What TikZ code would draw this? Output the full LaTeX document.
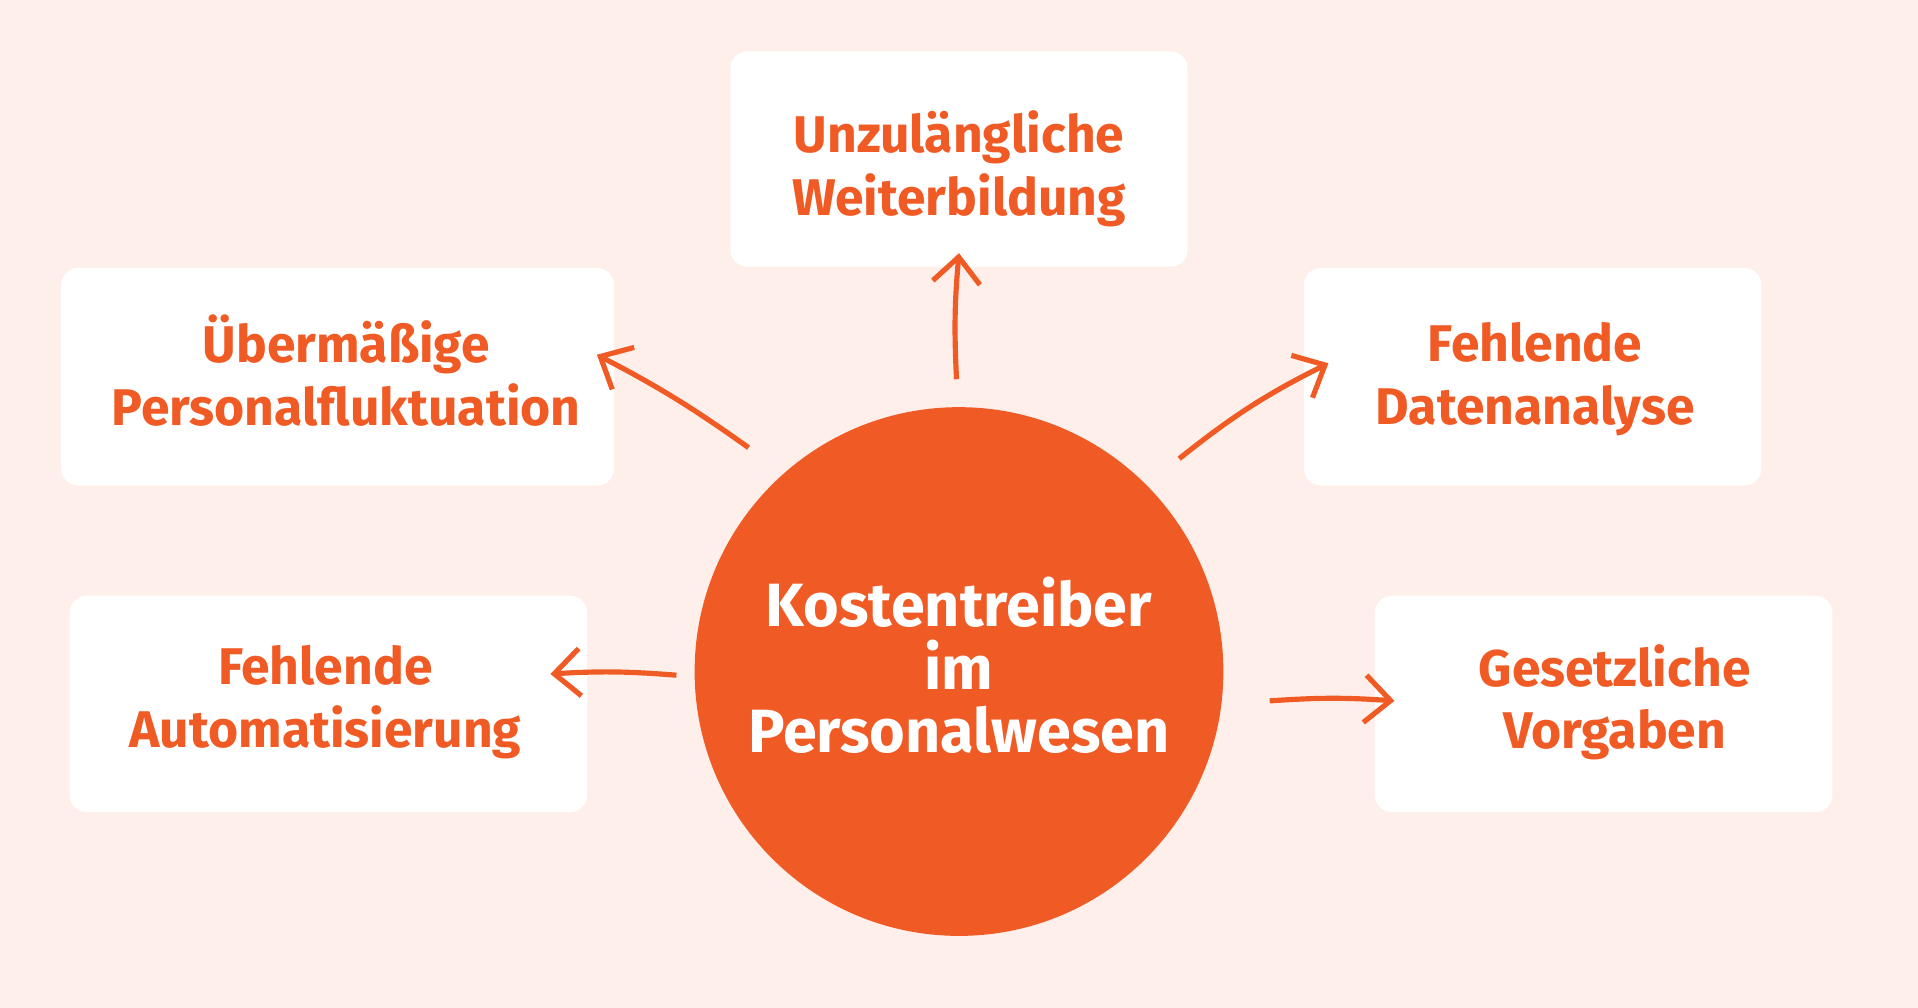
\documentclass[tikz,border=0pt]{standalone}
\usepackage{fontspec}
\setmainfont{Fira Sans}
\usetikzlibrary{arrows.meta}
\definecolor{bg}{HTML}{FEEFEA}
\definecolor{org}{HTML}{F05A24}
\tikzset{
 box/.style={fill=white,rounded corners=4pt,draw=none},
 btxt/.style={text=org,font=\fontsize{12}{14.5}\selectfont\bfseries,align=center},
 arr/.style={draw=org,line width=1.2pt,-{Straight Barb[length=6pt,width=11pt,line width=1.2pt]}}
}
\begin{document}
\begin{tikzpicture}[x=0.01cm,y=0.01cm]
\fill[bg] (0,0) rectangle (1568,824);
\useasboundingbox (0,0) rectangle (1568,824);
\fill[box] (597,782) rectangle (971,606);
\fill[box] (50,605) rectangle (502,427);
\fill[box] (1066,605) rectangle (1440,427);
\fill[box] (57,337) rectangle (480,160);
\fill[box] (1124,337) rectangle (1498,160);
\node[btxt] (t) at (784,686) {Unzulängliche\\Weiterbildung};
\node[btxt] (ul) at (283,521) {Übermäßige\\Personalfluktuation};
\node[btxt] (ur) at (1255,514) {Fehlende\\Datenanalyse};
\node[btxt] (ll) at (266,250) {Fehlende\\Automatisierung};
\node[btxt] (lr) at (1320,250) {Gesetzliche\\Vorgaben};
\node[circle,fill=org,minimum size=4.32cm,inner sep=0] (c) at (784,275) {};
\node[text=white,font=\fontsize{14.2}{14.6}\selectfont\bfseries,align=center] (ct) at (784,280) {Kostentreiber\\im\\Personalwesen};
\coordinate (a1) at (782,514); \coordinate (b1) at (784,617);
\coordinate (a2) at (612,458); \coordinate (b2) at (488,534);
\coordinate (a3) at (964,449); \coordinate (b3) at (1086,527);
\coordinate (a4) at (553,272); \coordinate (b4) at (450,273);
\coordinate (a5) at (1038,251); \coordinate (b5) at (1140,251);
\draw[arr] (a1) to[bend left=4] (b1);
\draw[arr] (a2) to[bend right=4] (b2);
\draw[arr] (a3) to[bend left=6] (b3);
\draw[arr] (a4) to[bend right=4] (b4);
\draw[arr] (a5) to[bend left=4] (b5);
\end{tikzpicture}
\end{document}
